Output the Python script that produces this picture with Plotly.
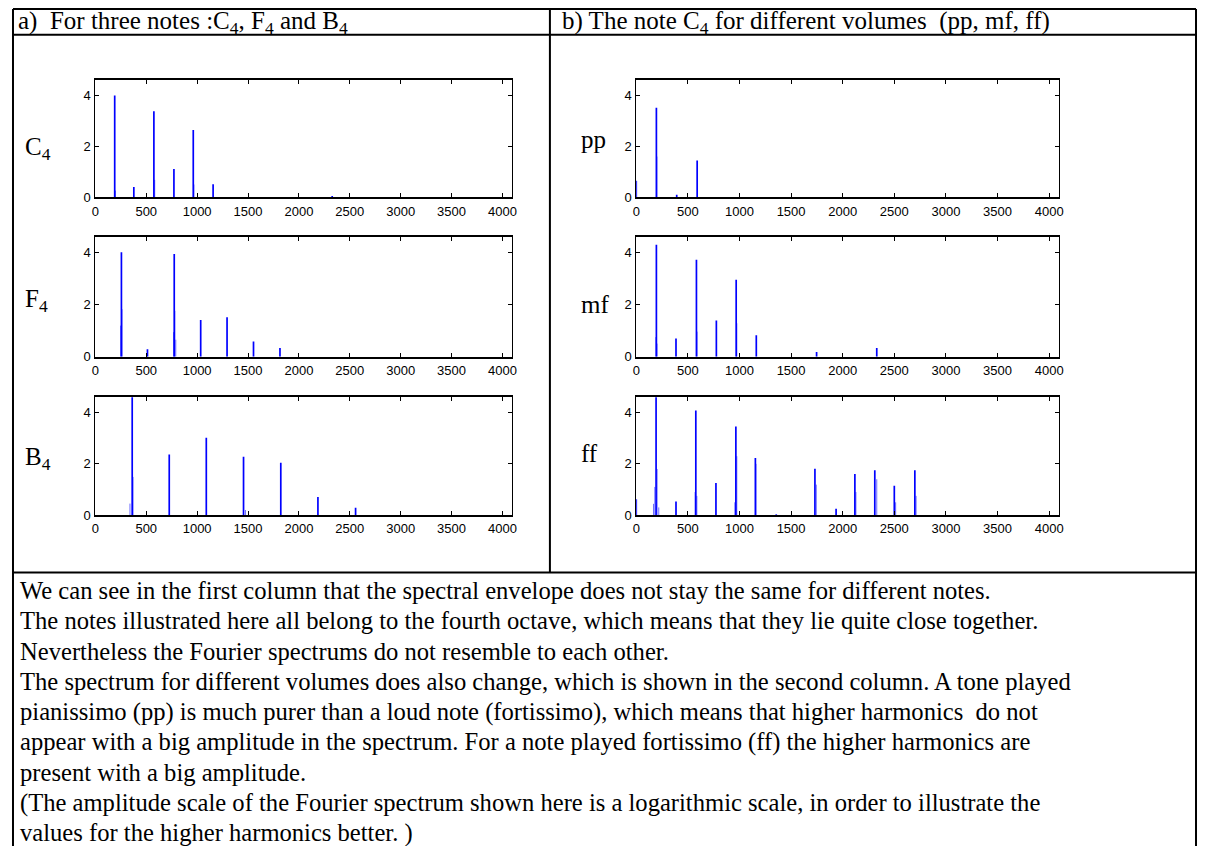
import plotly.graph_objects as go

# ---------------- data ----------------
freq_ticks = [0, 500, 1000, 1500, 2000, 2500, 3000, 3500, 4000]
amp_ticks = [0, 2, 4]

# column a) three notes
C4_freq = [190, 378, 575, 772, 962, 1157, 2327]
C4_amp = [4.0, 0.40, 3.38, 1.11, 2.64, 0.51, 0.05]
C4_side_freq = [197, 583, 968]
C4_side_amp = [0.26, 0.68, 0.50]

F4_freq = [256, 512, 775, 1035, 1294, 1554, 1814]
F4_amp = [4.01, 0.28, 3.94, 1.41, 1.51, 0.58, 0.33]
F4_side_freq = [248, 262, 768, 781, 790]
F4_side_amp = [1.19, 1.82, 0.94, 1.76, 0.65]

B4_freq = [362, 726, 1090, 1456, 1822, 2187, 2557]
B4_amp = [4.7, 2.37, 3.02, 2.28, 2.04, 0.71, 0.29]
B4_side_freq = [340, 370, 1475]
B4_side_amp = [0.45, 1.49, 0.20]

# column b) C4 at three volumes
pp_freq = [0, 195, 392, 590]
pp_amp = [0.65, 3.52, 0.10, 1.44]
pp_side_freq = [200]
pp_side_amp = [1.60]

mf_freq = [195, 385, 583, 776, 968, 1163, 1747, 2330]
mf_amp = [4.29, 0.70, 3.72, 1.39, 2.95, 0.82, 0.18, 0.33]
mf_side_freq = [190, 201, 589, 974]
mf_side_amp = [0.75, 0.50, 0.96, 1.28]

ff_freq = [0, 192, 385, 577, 772, 965, 1154, 1356, 1731, 1936, 2118, 2311, 2500, 2699]
ff_amp = [0.62, 4.7, 0.53, 4.08, 1.25, 3.46, 2.23, 0.03, 1.81, 0.25, 1.60, 1.75, 1.15, 1.75]
ff_side_freq = [167, 180, 202, 218, 570, 587, 955, 974, 1160, 1744, 2128, 2330, 2513, 2711]
ff_side_amp = [0.44, 1.10, 1.80, 0.30, 0.90, 0.75, 0.50, 2.30, 2.00, 1.19, 0.90, 1.40, 0.50, 0.75]

panel_labels = ["C<sub>4</sub>", "F<sub>4</sub>", "B<sub>4</sub>", "pp", "mf", "ff"]
header_a = "a)&nbsp; For three notes :C<sub>4</sub>, F<sub>4</sub> and B<sub>4</sub>"
header_b = "b) The note C<sub>4</sub> for different volumes&nbsp; (pp, mf, ff)"
body_lines = [
    "We can see in the first column that the spectral envelope does not stay the same for different notes.",
    "The notes illustrated here all belong to the fourth octave, which means that they lie quite close together.",
    "Nevertheless the Fourier spectrums do not resemble to each other.",
    "The spectrum for different volumes does also change, which is shown in the second column. A tone played",
    "pianissimo (pp) is much purer than a loud note (fortissimo), which means that higher harmonics&nbsp; do not",
    "appear with a big amplitude in the spectrum. For a note played fortissimo (ff) the higher harmonics are",
    "present with a big amplitude.",
    "(The amplitude scale of the Fourier spectrum shown here is a logarithmic scale, in order to illustrate the",
    "values for the higher harmonics better. )",
]

spectra = [
    (C4_freq, C4_amp, C4_side_freq, C4_side_amp),
    (F4_freq, F4_amp, F4_side_freq, F4_side_amp),
    (B4_freq, B4_amp, B4_side_freq, B4_side_amp),
    (pp_freq, pp_amp, pp_side_freq, pp_side_amp),
    (mf_freq, mf_amp, mf_side_freq, mf_side_amp),
    (ff_freq, ff_amp, ff_side_freq, ff_side_amp),
]

# ---------------- layout geometry (page pixels) ----------------
# the page body keeps its default 8px margin, so the figure is offset by OFF
OFF = 8
FW, FH = 1194, 838
col_x = [(92, 512), (637, 1063)]
row_y = [(81, 199), (239, 360), (401, 520)]
label_x = [19, 579]
label_y = [[150, 303, 463], [141, 307, 458]]


def px_x(p):
    return (p - OFF) / FW


def px_y(p):
    return 1 - (p - OFF) / FH


def stems(freqs, amps):
    xs, ys = [], []
    for f, a in zip(freqs, amps):
        xs += [f, f, None]
        ys += [0, a, None]
    return xs, ys


fig = go.Figure()
layout_axes = {}
for k, (fr, am, sfr, sam) in enumerate(spectra):
    col, row = k // 3, k % 3
    n = k + 1
    xa = "x" if n == 1 else f"x{n}"
    ya = "y" if n == 1 else f"y{n}"
    sx, sy = stems(sfr, sam)
    fig.add_trace(go.Scatter(x=sx, y=sy, mode="lines", xaxis=xa, yaxis=ya,
                             line=dict(color="rgb(110,110,255)", width=1),
                             hoverinfo="skip", showlegend=False, cliponaxis=True))
    mx, my = stems(fr, am)
    fig.add_trace(go.Scatter(x=mx, y=my, mode="lines", xaxis=xa, yaxis=ya,
                             line=dict(color="#0000ff", width=1.7),
                             showlegend=False, cliponaxis=True))
    axis_common = dict(showline=True, linecolor="black",
                       mirror="ticks", ticks="inside", ticklen=4,
                       tickcolor="black", showgrid=False, zeroline=False,
                       tickfont=dict(family="Liberation Sans, Arial, sans-serif",
                                     size=13, color="black"),
                       fixedrange=True)
    x0, x1 = col_x[col]
    y0, y1 = row_y[row]
    layout_axes["xaxis" if n == 1 else f"xaxis{n}"] = dict(
        axis_common, linewidth=1.5, domain=[px_x(x0), px_x(x1)], range=[0, 4096],
        tickvals=freq_ticks, anchor=ya, ticklabelstandoff=1)
    layout_axes["yaxis" if n == 1 else f"yaxis{n}"] = dict(
        axis_common, linewidth=1, domain=[px_y(y1), px_y(y0)], range=[0, 4.6],
        tickvals=amp_ticks, anchor=xa, ticklabelstandoff=1)

fig.update_layout(**layout_axes)

serif = "Liberation Serif, Times New Roman, serif"
annotations = []
for k, lab in enumerate(panel_labels):
    col, row = k // 3, k % 3
    annotations.append(dict(text=lab, x=px_x(label_x[col]), y=px_y(label_y[col][row]),
                            xref="paper", yref="paper", xanchor="left", yanchor="middle",
                            showarrow=False, font=dict(family=serif, size=25, color="black")))
annotations.append(dict(text=header_a, x=px_x(12), y=px_y(23), xref="paper", yref="paper",
                        xanchor="left", yanchor="middle", showarrow=False,
                        font=dict(family=serif, size=25, color="black")))
annotations.append(dict(text=header_b, x=px_x(560), y=px_y(23), xref="paper", yref="paper",
                        xanchor="left", yanchor="middle", showarrow=False,
                        font=dict(family=serif, size=25, color="black")))
for i, line in enumerate(body_lines):
    annotations.append(dict(text=line, x=px_x(14), y=px_y(596 + 30.6 * i), xref="paper", yref="paper",
                            xanchor="left", yanchor="middle", showarrow=False,
                            font=dict(family=serif, size=24.6, color="black")))

border = dict(color="black", width=2)
LEFT, RIGHT, TOP = 9, 1201, 9
shapes = [
    dict(type="line", xref="paper", yref="paper", x0=px_x(LEFT), x1=px_x(LEFT), y0=px_y(860), y1=px_y(TOP), line=border),
    dict(type="line", xref="paper", yref="paper", x0=px_x(RIGHT), x1=px_x(RIGHT), y0=px_y(860), y1=px_y(TOP), line=border),
    dict(type="line", xref="paper", yref="paper", x0=px_x(LEFT), x1=px_x(RIGHT), y0=px_y(TOP), y1=px_y(TOP), line=border),
    dict(type="line", xref="paper", yref="paper", x0=px_x(LEFT), x1=px_x(RIGHT), y0=px_y(35), y1=px_y(35), line=border),
    dict(type="line", xref="paper", yref="paper", x0=px_x(LEFT), x1=px_x(RIGHT), y0=px_y(578), y1=px_y(578), line=border),
    dict(type="line", xref="paper", yref="paper", x0=px_x(550), x1=px_x(550), y0=px_y(578), y1=px_y(TOP), line=border),
]

fig.update_layout(width=FW, height=FH, margin=dict(l=0, r=0, t=0, b=0),
                  paper_bgcolor="white", plot_bgcolor="white",
                  annotations=annotations, shapes=shapes, showlegend=False)

fig.write_html("out.html")
